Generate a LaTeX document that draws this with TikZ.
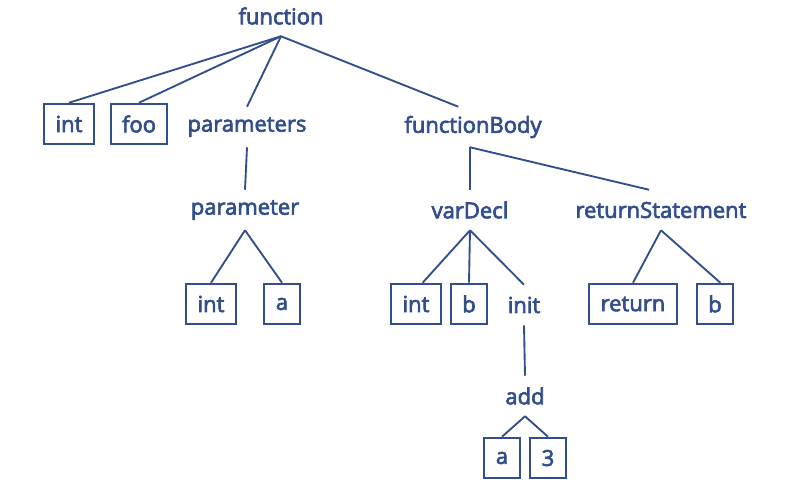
\documentclass[tikz,border=0pt]{standalone}
\usepackage{fontspec}
\setmainfont{Open Sans}
\newfontfamily\treefont[FakeBold=3]{Open Sans}
\usepackage{tikz}

\definecolor{ink}{RGB}{50,78,140}

\tikzset{
	word/.style={text=ink, inner sep=0pt, minimum height=30pt, font=\treefont\fontsize{16.5}{19}\selectfont},
	leaf/.style={draw=ink, line width=1.4pt, text=ink, inner xsep=8.5pt, minimum height=30.5pt, minimum width=27.5pt, font=\treefont\fontsize{16.5}{19}\selectfont},
	edge/.style={draw=ink, line width=1.4pt}
}

\begin{document}
\begin{tikzpicture}[x=0.75pt, y=-0.75pt]
	\useasboundingbox (0,0) rectangle (801,490);

	\node[word]		(fn)		at	(281,16)	{function};
	\node[leaf]		(int1)		at	(69,124)	{int};
	\node[leaf]		(foo)		at	(139,124)	{foo};
	\node[word]		(params)	at	(247,127)	{parameters};
	\node[word]		(body)		at	(473,127)	{functionBody};

	\node[word]		(param)		at	(245,210)	{parameter};
	\node[leaf]		(int2)		at	(211,304)	{int};
	\node[leaf]		(a1)		at	(282,304)	{a};

	\node[word]		(decl)		at	(470,210)	{varDecl};
	\node[leaf]		(int3)		at	(416,304)	{int};
	\node[leaf]		(b1)		at	(469,304)	{b};
	\node[word]		(init)		at	(524,305)	{init};

	\node[word]		(ret)		at	(661,210)	{returnStatement};
	\node[leaf]		(retkw)		at	(633,304)	{return};
	\node[leaf]		(b2)		at	(715,304)	{b};

	\node[word]		(add)		at	(525,396)	{add};
	\node[leaf]		(a2)		at	(502,458)	{a};
	\node[leaf]		(three)		at	(548,458)	{3};

	% function
	\draw[edge] (fn.south) -- (int1.north);
	\draw[edge] (fn.south) -- (foo.north);
	\draw[edge] (fn.south) -- (params.north);
	\draw[edge] (fn.south) -- ([xshift=-11pt]body.north);

	\draw[edge] (params.south) -- (param.north);
	\draw[edge] (param.south) -- (int2.north);
	\draw[edge] (param.south) -- (a1.north);

	% body
	\draw[edge] (body.south -| decl) -- (decl.north);
	\draw[edge] (body.south -| decl) -- ([xshift=-9pt]ret.north);
	\draw[edge] (decl.south) -- ([xshift=5pt]int3.north);
	\draw[edge] (decl.south) -- (b1.north);
	\draw[edge] (decl.south) -- (init.north);
	\draw[edge] (ret.south) -- (retkw.north);
	\draw[edge] (ret.south) -- ([xshift=4pt]b2.north);

	\draw[edge] (init.south) -- (add.north);
	\draw[edge] (add.south) -- (a2.north);
	\draw[edge] (add.south) -- (three.north);
\end{tikzpicture}
\end{document}
